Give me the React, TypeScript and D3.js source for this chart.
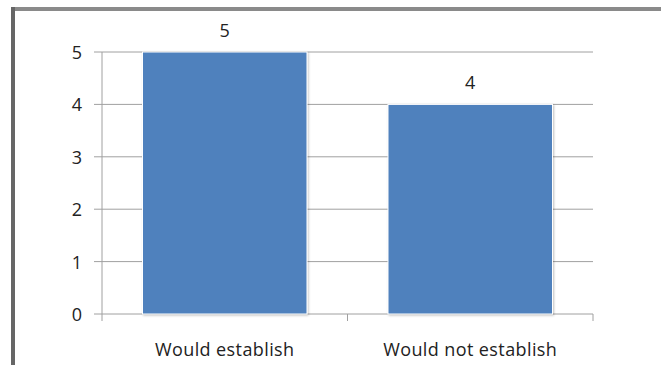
import React from "react";
import * as d3 from "d3";

const categories = ["Would establish", "Would not establish"];
const values = [5, 4];
const yTicks = [0, 1, 2, 3, 4, 5];

export default function App() {
  const W = 661, H = 365;
  const left = 102, right = 593, top = 52, bottom = 314;
  const x = d3.scaleBand<string>().domain(categories).range([left, right]).paddingInner(0.33).paddingOuter(0.165);
  const y = d3.scaleLinear().domain([0, 5]).range([bottom, top]);
  const font = "'Open Sans', sans-serif";
  const bw = x.bandwidth();
  return (
    <svg width={W} height={H} style={{ position: "absolute", left: 0, top: 0, background: "#fff" }}>
      <defs>
        <filter id="sh" x="-10%" y="-10%" width="120%" height="120%">
          <feDropShadow dx="1" dy="1" stdDeviation="1.2" floodColor="#000" floodOpacity="0.25" />
        </filter>
      </defs>
      <rect x={0} y={0} width={W} height={H} fill="#fff" />
      <rect x={11} y={7} width={W - 11} height={4} fill="#8a8a8a" />
      <rect x={11} y={7} width={4} height={H - 7} fill="#666" />
      {yTicks.map((t) => (
        <g key={t}>
          <line x1={94} x2={right} y1={y(t)} y2={y(t)} stroke="#a0a0a0" strokeWidth={1} />
          <text x={82} y={y(t) + 7} textAnchor="end" fontFamily={font} fontSize={18} fill="#222">{t}</text>
        </g>
      ))}
      <line x1={left} x2={left} y1={top} y2={bottom} stroke="#a0a0a0" />
      {[0, 1, 2].map((i) => {
        const xx = left + i * ((right - left) / 2);
        return <line key={i} x1={xx} x2={xx} y1={bottom} y2={bottom + 7} stroke="#a0a0a0" />;
      })}
      {categories.map((c, i) => (
        <g key={c}>
          <rect x={x(c)} y={y(values[i])} width={bw} height={bottom - y(values[i])} fill="#4F81BD" stroke="#fff" strokeWidth={1} filter="url(#sh)" />
          <text x={(x(c) as number) + bw / 2} y={y(values[i]) - 15} textAnchor="middle" fontFamily={font} fontSize={18} fill="#222">{values[i]}</text>
          <text x={(x(c) as number) + bw / 2} y={356} textAnchor="middle" fontFamily={font} fontSize={18} fill="#222" letterSpacing={0.4}>{c}</text>
        </g>
      ))}
    </svg>
  );
}
